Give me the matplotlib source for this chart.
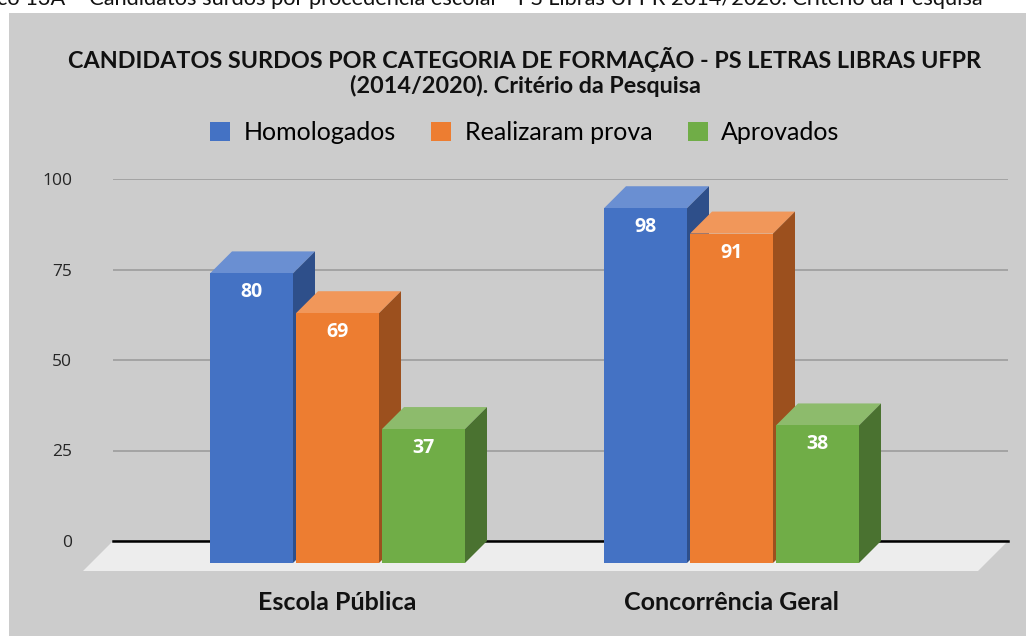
import matplotlib
matplotlib.use('Agg')
import numpy as np
import matplotlib.pyplot as plt
from matplotlib.patches import Polygon, Rectangle

categories = ['Escola Pública', 'Concorrência Geral']
series = ['Homologados', 'Realizaram prova', 'Aprovados']
homologados = [80, 98]
realizaram = [69, 91]
aprovados = [37, 38]
yticks = [0, 25, 50, 75, 100]

title = ('CANDIDATOS SURDOS POR CATEGORIA DE FORMAÇÃO - PS LETRAS LIBRAS UFPR\n'
         '(2014/2020). Critério da Pesquisa')
caption = ('co 13A – Candidatos surdos por procedência escolar - PS Libras UFPR '
           '2014/2020. Critério da Pesquisa')

front = ['#4472C4', '#ED7D31', '#70AD47']
top = ['#6A8FD2', '#F1975A', '#8DBB6C']
side = ['#2E4F8A', '#9C501E', '#4A7230']

W, H = 1026, 636
fig = plt.figure(figsize=(W / 100, H / 100), dpi=100)
fig.patch.set_facecolor('white')
fig.patches.append(Rectangle((9 / W, 0), 1, (H - 13) / H, transform=fig.transFigure,
                             facecolor='#CCCCCC', edgecolor='none', zorder=-5))

# plot region: back wall from x=113..1008 px, value 0 at 541 px, 100 at 179 px
ax = fig.add_axes([113 / W, (H - 541) / H, (1008 - 113) / W, (541 - 179) / H])
ax.set_zorder(1)
ax.set_facecolor('none')
px_x = 394.0   # px per category unit
px_y = 3.62    # px per value unit
ax.set_xlim(-224.5 / px_x, 670.5 / px_x)
ax.set_ylim(0, 100)
for s in ax.spines.values():
    s.set_visible(False)

ax.set_yticks(yticks)
ax.yaxis.grid(True, color='#A0A0A0', lw=1.3, zorder=1)
ax.set_axisbelow(True)
ax.tick_params(axis='y', length=0, pad=29.5, labelsize=12.5, labelcolor='#262626')
for lab in ax.get_yticklabels():
    lab.set_family('Open Sans')

x = np.arange(len(categories))
ax.set_xticks(x, categories)
ax.tick_params(axis='x', length=0, pad=36, labelsize=18)
for lab in ax.get_xticklabels():
    lab.set_family('Lato')
    lab.set_fontweight('bold')
    lab.set_color('#111111')

x0, x1 = ax.get_xlim()
# floor
fdx, fdy = 30 / px_x, 30 / px_y
ax.add_patch(Polygon([(x0, 0), (x1, 0), (x1 - fdx, -fdy), (x0 - fdx, -fdy)],
                     closed=True, facecolor='#EDEDED', edgecolor='none',
                     clip_on=False, zorder=2))
ax.plot([x0, x1], [0, 0], color='black', lw=1.8, zorder=3, clip_on=False)

# bars with a 3d look
w = 83 / px_x
step = 86 / px_x
ddx, ddy = 22 / px_x, 22 / px_y
data = [homologados, realizaram, aprovados]
for i, vals in enumerate(data):
    xc = x + (i - 1) * step
    ax.bar(xc, vals, width=w, bottom=-ddy, color=front[i], label=series[i],
           clip_on=False, zorder=5)
    for xi, v in zip(xc, vals):
        l, r = xi - w / 2, xi + w / 2
        yt = v - ddy
        ax.add_patch(Polygon([(l, yt), (r, yt), (r + ddx, v), (l + ddx, v)],
                             facecolor=top[i], edgecolor='none', clip_on=False, zorder=4))
        ax.add_patch(Polygon([(r, -ddy), (r + ddx, 0), (r + ddx, v), (r, yt)],
                             facecolor=side[i], edgecolor='none', clip_on=False, zorder=4))
        ax.text(xi, yt - 19 / px_y, str(v), ha='center', va='center', color='white',
                fontsize=14, fontweight='bold', family='Open Sans', zorder=6)

handles, labels = ax.get_legend_handles_labels()
fig.legend(handles, labels, loc='center', bbox_to_anchor=(525 / W, 1 - 133 / H),
           ncol=3, frameon=False, handlelength=0.8, handleheight=0.8,
           handletextpad=0.55, columnspacing=1.4,
           prop={'family': 'Lato', 'size': 18})

fig.text(525 / W, 1 - 72 / H, title, ha='center', va='center', fontsize=16.8,
         fontweight='bold', family='Lato', color='#111111', linespacing=1.2)
fig.text(-3 / W, 1 - 5 / H, caption, ha='left', va='baseline', fontsize=15.7,
         family='Lato', color='#111111')

fig.savefig('out.png', dpi=100, facecolor=fig.get_facecolor())
